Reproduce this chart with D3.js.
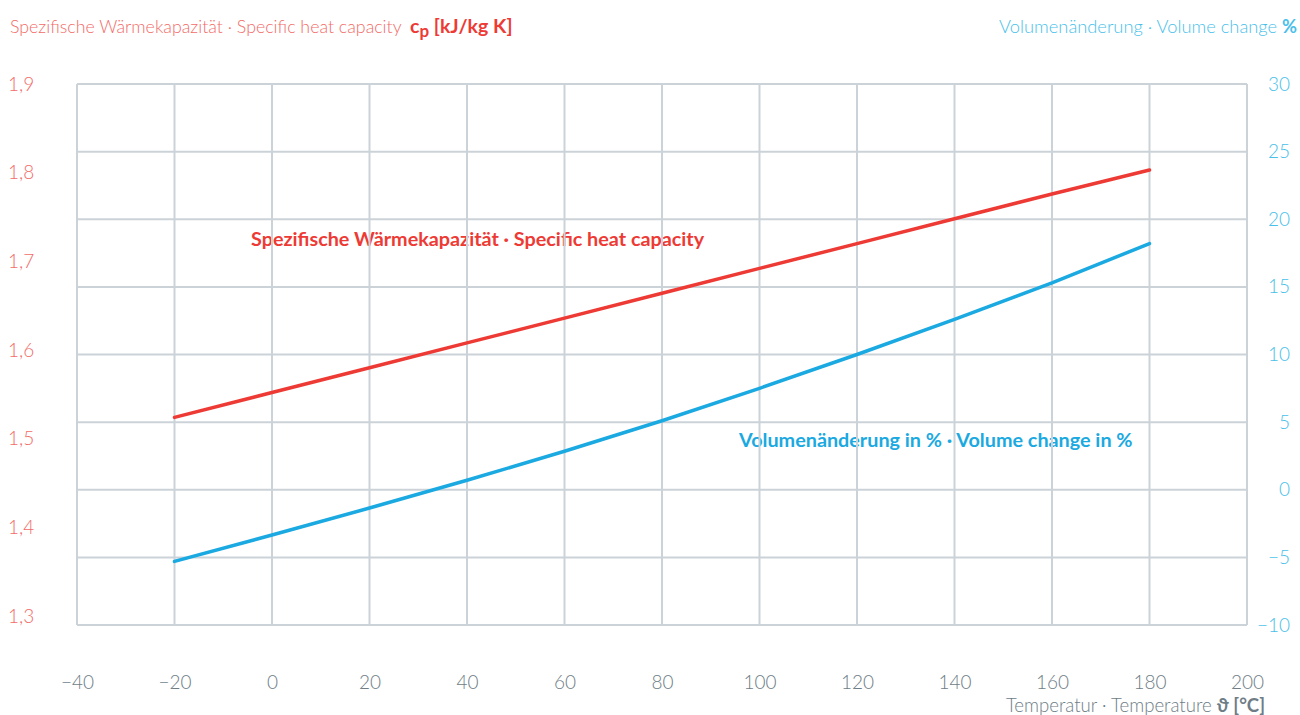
<!DOCTYPE html>
<html>
<head>
<meta charset="utf-8">
<script src="https://cdn.jsdelivr.net/npm/d3@7"></script>
<style>
  html, body { margin: 0; padding: 0; background: #fff; }
  svg { display: block; }
  text { font-family: Lato, "Open Sans", sans-serif; }
</style>
</head>
<body>
<svg id="chart" width="1300" height="715"></svg>
<script>
// ---- data ----
const temperatures = [-20, 0, 20, 40, 60, 80, 100, 120, 140, 160, 180];
const heatCapacity = [1.524, 1.552, 1.580, 1.608, 1.636, 1.664, 1.692, 1.720, 1.748, 1.776, 1.803];
const volumeChange = [-5.3, -3.35, -1.35, 0.7, 2.85, 5.1, 7.5, 10.0, 12.6, 15.3, 18.2];
const xTicks = [-40, -20, 0, 20, 40, 60, 80, 100, 120, 140, 160, 180, 200];
const leftTicks = [1.3, 1.4, 1.5, 1.6, 1.7, 1.8, 1.9];
const rightTicks = [-10, -5, 0, 5, 10, 15, 20, 25, 30];

const RED = "#ee3a34", RED_LIGHT = "#f26b68";
const BLUE = "#1ba9e1", BLUE_LIGHT = "#49bfea";
const GRID = "#cbd3d9", GRAY = "#6e7d86";

const svg = d3.select("#chart");
const L = 77, R = 1247, T = 84, B = 625;

const x = d3.scaleLinear().domain([-40, 200]).range([L, R]);
const yL = d3.scaleLinear().domain([1.3, 1.9]).range([616, T]);
const yR = d3.scaleLinear().domain([-10, 30]).range([B, T]);

// inline series labels (drawn beneath grid, as in reference)
svg.append("text").attr("x", 251).attr("y", 246)
  .attr("fill", RED).attr("font-size", 19.8).attr("font-weight", 700)
  .text("Spezifische Wärmekapazität · Specific heat capacity");
svg.append("text").attr("x", 739).attr("y", 447)
  .attr("fill", BLUE).attr("font-size", 19.8).attr("font-weight", 700)
  .text("Volumenänderung in % · Volume change in %");

// grid
const grid = svg.append("g");
grid.selectAll("line.v").data(xTicks).join("line")
  .attr("x1", d => x(d)).attr("x2", d => x(d)).attr("y1", T).attr("y2", B)
  .attr("stroke", GRID).attr("stroke-width", 2);
grid.selectAll("line.h").data(rightTicks).join("line")
  .attr("x1", L).attr("x2", R).attr("y1", d => yR(d)).attr("y2", d => yR(d))
  .attr("stroke", GRID).attr("stroke-width", 2);

// axes
const xAxis = svg.append("g").attr("transform", `translate(0,${B})`)
  .call(d3.axisBottom(x).tickValues(xTicks).tickSize(0).tickPadding(51)
    .tickFormat(d => d < 0 ? "\u2212" + Math.abs(d) : d));
xAxis.select(".domain").remove();
xAxis.selectAll("text").attr("fill", GRAY).attr("font-size", 19)
  .attr("font-family", "Lato, sans-serif").attr("font-weight", 300);

const yAxisL = svg.append("g").attr("transform", `translate(${L},0)`)
  .call(d3.axisLeft(yL).tickValues(leftTicks).tickSize(0)
    .tickFormat(d => d3.format(".1f")(d).replace(".", ",")));
yAxisL.select(".domain").remove();
yAxisL.selectAll("text").attr("fill", RED_LIGHT).attr("font-size", 19)
  .attr("font-family", "Lato, sans-serif").attr("font-weight", 300)
  .attr("text-anchor", "start").attr("dx", 0).attr("x", -69);

const yAxisR = svg.append("g").attr("transform", `translate(${R},0)`)
  .call(d3.axisRight(yR).tickValues(rightTicks).tickSize(0)
    .tickFormat(d => d < 0 ? "\u2212" + Math.abs(d) : d));
yAxisR.select(".domain").remove();
yAxisR.selectAll("text").attr("fill", BLUE_LIGHT).attr("font-size", 19)
  .attr("font-family", "Lato, sans-serif").attr("font-weight", 300)
  .attr("text-anchor", "end").attr("x", 43);

// lines
const redLine = d3.line().x((d, i) => x(temperatures[i])).y(d => yL(d));
const blueLine = d3.line().x((d, i) => x(temperatures[i])).y(d => yR(d));
svg.append("path").datum(heatCapacity).attr("d", redLine)
  .attr("fill", "none").attr("stroke", RED).attr("stroke-width", 3.5).attr("stroke-linecap", "round");
svg.append("path").datum(volumeChange).attr("d", blueLine)
  .attr("fill", "none").attr("stroke", BLUE).attr("stroke-width", 3.5).attr("stroke-linecap", "round");

// titles
const t1 = svg.append("text").attr("x", 10).attr("y", 33)
  .attr("fill", RED_LIGHT).attr("font-size", 17.8).attr("font-weight", 300);
t1.append("tspan").text("Spezifische Wärmekapazität · Specific heat capacity");
t1.append("tspan").attr("x", 410).attr("font-weight", 700).attr("fill", RED).attr("font-size", 19.5).text("c");
t1.append("tspan").attr("font-weight", 700).attr("fill", RED).attr("dy", 4).attr("font-size", 17).text("p");
t1.append("tspan").attr("font-weight", 700).attr("fill", RED).attr("dy", -4).attr("font-size", 19.5).text(" [kJ/kg K]");

const t2 = svg.append("text").attr("x", 1297).attr("y", 33).attr("text-anchor", "end")
  .attr("fill", BLUE_LIGHT).attr("font-size", 18.3).attr("font-weight", 300);
t2.append("tspan").text("Volumenänderung · Volume change ");
t2.append("tspan").attr("font-weight", 700).text("%");

const t3 = svg.append("text").attr("x", 1265).attr("y", 712).attr("text-anchor", "end")
  .attr("fill", GRAY).attr("font-size", 18.6).attr("font-weight", 300);
t3.append("tspan").text("Temperatur · Temperature ");
t3.append("tspan").attr("font-weight", 700).text("ϑ [°C]");
</script>
</body>
</html>
